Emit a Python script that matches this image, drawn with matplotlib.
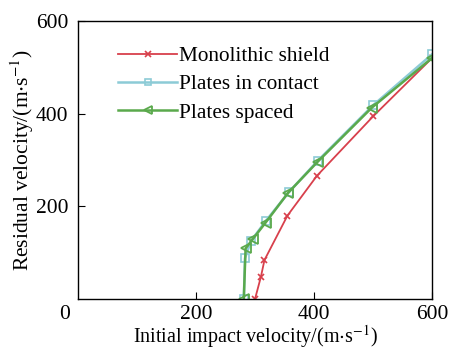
import matplotlib.pyplot as plt

plt.rcParams['font.family'] = ['Liberation Serif', 'DejaVu Serif']
plt.rcParams['mathtext.fontset'] = 'stix'

# Initial impact velocity (m/s) vs residual velocity (m/s)
mono_v0 = [300, 310, 316, 355, 405, 500, 600]
mono_vr = [0, 48, 84, 180, 266, 394, 520]

contact_v0 = [281, 283, 293, 318, 357, 406, 500, 600]
contact_vr = [0, 88, 125, 168, 230, 298, 418, 528]

spaced_v0 = [281, 284, 296, 318, 356, 406, 498, 600]
spaced_vr = [0, 109, 129, 165, 229, 296, 413, 520]

labels = ['Monolithic shield', 'Plates in contact', 'Plates spaced']
colors = ['#d8404c', '#8ccbd6', '#5aa94c']

fig = plt.figure(figsize=(4.52, 3.49), dpi=100)
ax = fig.add_axes([0.1726, 0.1433, 0.7832, 0.7965])

ax.plot(mono_v0, mono_vr, color=colors[0], lw=1.3, marker='x', ms=5,
        mew=1.2, label=labels[0])
ax.plot(contact_v0, contact_vr, color=colors[1], lw=1.8, marker='s', ms=6,
        mfc='none', mew=1.2, label=labels[1])
ax.plot(spaced_v0, spaced_vr, color=colors[2], lw=1.8, marker='<', ms=7,
        mfc='none', mew=1.3, label=labels[2])

ax.set_xlim(0, 600)
ax.set_ylim(0, 600)
ax.set_xticks([200, 400, 600])
ax.set_yticks([200, 400, 600])
ax.tick_params(direction='in', length=5, width=0.8, labelsize=15.5, pad=7)
ax.tick_params(axis='x', pad=4.5)
for s in ax.spines.values():
    s.set_linewidth(1.0)

# shared origin label at the corner
ax.text(-0.037, -0.055, '0', transform=ax.transAxes, fontsize=15.5,
        ha='center', va='center')

ax.set_xlabel('Initial impact velocity/(m$\\cdot$s$^{-1}$)', fontsize=14.5,
              labelpad=-1)
ax.set_ylabel('Residual velocity/(m$\\cdot$s$^{-1}$)', fontsize=15.5,
              labelpad=0)

leg = ax.legend(loc='upper left', bbox_to_anchor=(0.09, 0.94),
                frameon=False, fontsize=15.3, handlelength=2.75,
                handletextpad=0.1, labelspacing=0.4, borderaxespad=0,
                markerscale=0.75)

fig.savefig('out.png', dpi=100)
